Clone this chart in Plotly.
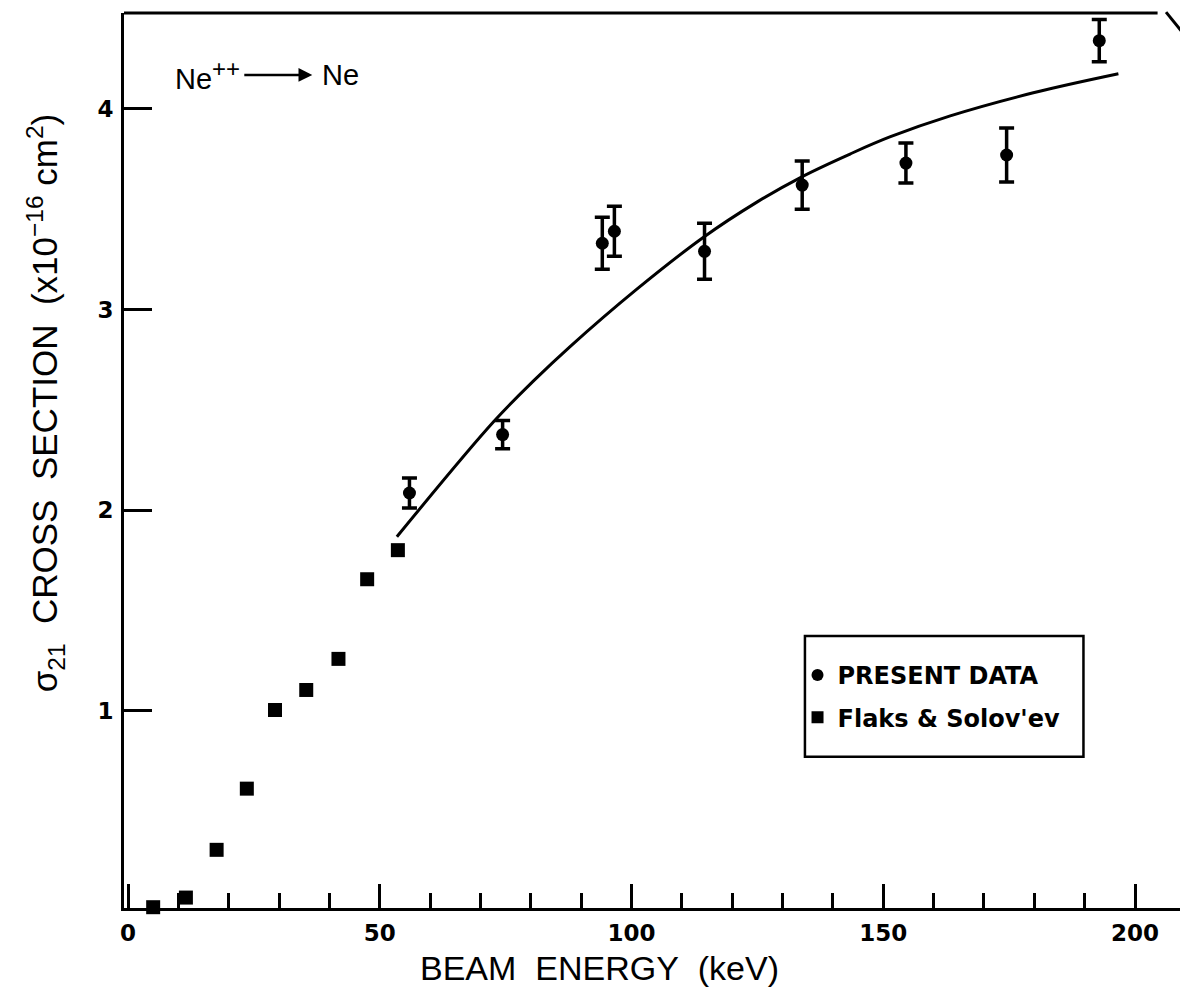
import plotly.graph_objects as go

# Present data (circles with error bars)
present_e = [55.9, 74.4, 94.2, 96.6, 114.5, 133.9, 154.5, 174.5, 192.9]
present_s = [2.085, 2.376, 3.33, 3.39, 3.29, 3.62, 3.73, 3.77, 4.34]
present_err = [0.075, 0.07, 0.13, 0.125, 0.14, 0.12, 0.10, 0.135, 0.105]

# Flaks & Solov'ev (squares)
flaks_e = [5.0, 11.5, 17.6, 23.6, 29.2, 35.4, 41.8, 47.5, 53.6]
flaks_s = [0.02, 0.068, 0.306, 0.611, 1.003, 1.103, 1.258, 1.655, 1.80]

# Smooth curve drawn through the data
curve_e = [53.4, 72.6, 80.8, 87.8, 101.0, 114.3, 124.9, 134.1, 143.4, 151.3, 163.3, 179.8, 196.7]
curve_s = [1.867, 2.44, 2.65, 2.815, 3.10, 3.36, 3.535, 3.665, 3.775, 3.86, 3.965, 4.08, 4.175]

x_ticks = [0, 50, 100, 150, 200]
y_ticks = [1, 2, 3, 4]

FONT = "Liberation Sans"
LFONT = "DejaVu Sans"

fig = go.Figure()

fig.add_trace(go.Scatter(
    x=curve_e, y=curve_s, mode="lines", line=dict(color="black", width=3, shape="spline"),
    showlegend=False, hoverinfo="skip"))

fig.add_trace(go.Scatter(
    x=present_e, y=present_s, mode="markers", name="PRESENT DATA", legendgroup="a",
    marker=dict(symbol="circle", size=13, color="black"),
    error_y=dict(type="data", array=present_err, visible=True, color="black",
                 thickness=3.5, width=7.5)))

fig.add_trace(go.Scatter(
    x=flaks_e, y=flaks_s, mode="markers", name="Flaks & Solov'ev", legendgroup="b",
    marker=dict(symbol="square", size=14, color="black"), cliponaxis=False))

# Reaction label
fig.add_annotation(x=8.9, y=4.169, xref="x", yref="y",
                   text="Ne<sup><span style='font-size:24px'>++</span></sup>", showarrow=False,
                   xanchor="left", yanchor="middle", font=dict(family=FONT, size=29, color="black"))
fig.add_annotation(x=36.6, y=4.169, ax=22.8, ay=4.169, xref="x", yref="y", axref="x", ayref="y",
                   text="", showarrow=True, arrowhead=2, arrowsize=1.1, arrowwidth=2.5, arrowcolor="black")
fig.add_annotation(x=38.1, y=4.169, xref="x", yref="y", text="Ne", showarrow=False,
                   xanchor="left", yanchor="middle", font=dict(family=FONT, size=29, color="black"))

# Axis titles
fig.add_annotation(x=0.449, y=-0.067, xref="paper", yref="paper", showarrow=False,
                   text="BEAM&nbsp; ENERGY&nbsp; (keV)", xanchor="center", yanchor="middle",
                   font=dict(family=FONT, size=34, color="black"))
fig.add_annotation(x=-0.0746, y=0.565, xref="paper", yref="paper", showarrow=False, textangle=-90,
                   text="σ<sub>21</sub>&nbsp; CROSS&nbsp; SECTION&nbsp; (x10<sup>−16</sup> cm<sup>2</sup>)",
                   xanchor="center", yanchor="middle", font=dict(family=FONT, size=35, color="black"))

# Frame: top and right edges (torn corner)
fig.add_shape(type="line", xref="paper", yref="paper", x0=0, x1=0.976, y0=1, y1=1,
              line=dict(color="black", width=3))
fig.add_shape(type="line", xref="paper", yref="paper", x0=1, x1=1, y0=0, y1=0.964,
              line=dict(color="black", width=3))
fig.add_shape(type="line", xref="paper", yref="paper", x0=0.984, x1=1.003, y0=1.001, y1=0.973,
              line=dict(color="black", width=3))

# Legend box
fig.add_shape(type="rect", xref="paper", yref="paper", x0=0.643, x1=0.906, y0=0.169, y1=0.304,
              line=dict(color="black", width=2.5), fillcolor="rgba(0,0,0,0)")

fig.update_layout(
    width=1180, height=985,
    margin=dict(l=116, r=5, t=5, b=85),
    plot_bgcolor="white", paper_bgcolor="white",
    font=dict(family=FONT, color="black"),
    legend=dict(x=0.636, y=0.285, xanchor="left", yanchor="top",
                borderwidth=0, bgcolor="rgba(0,0,0,0)",
                font=dict(family=LFONT, size=24, color="black", weight="bold"),
                tracegroupgap=8, itemsizing="constant"),
    xaxis=dict(range=[-0.794, 209.53], tickvals=x_ticks, ticktext=[str(v) for v in x_ticks],
               ticks="inside", ticklen=24, tickwidth=3, tickcolor="black",
               minor=dict(dtick=10, tick0=0, ticks="inside", ticklen=15, tickwidth=3, tickcolor="black"),
               showline=True, linecolor="black", linewidth=3, showgrid=False, zeroline=False,
               automargin=False, ticklabelstandoff=2,
               tickfont=dict(family=LFONT, size=23, weight="bold")),
    yaxis=dict(range=[0.016, 4.478], tickvals=y_ticks, ticktext=[str(v) for v in y_ticks],
               ticks="inside", ticklen=28, tickwidth=3, tickcolor="black",
               showline=True, linecolor="black", linewidth=3, showgrid=False, zeroline=False,
               automargin=False, ticklabelstandoff=3,
               tickfont=dict(family=LFONT, size=23, weight="bold")),
)

fig.write_html("out.html")
